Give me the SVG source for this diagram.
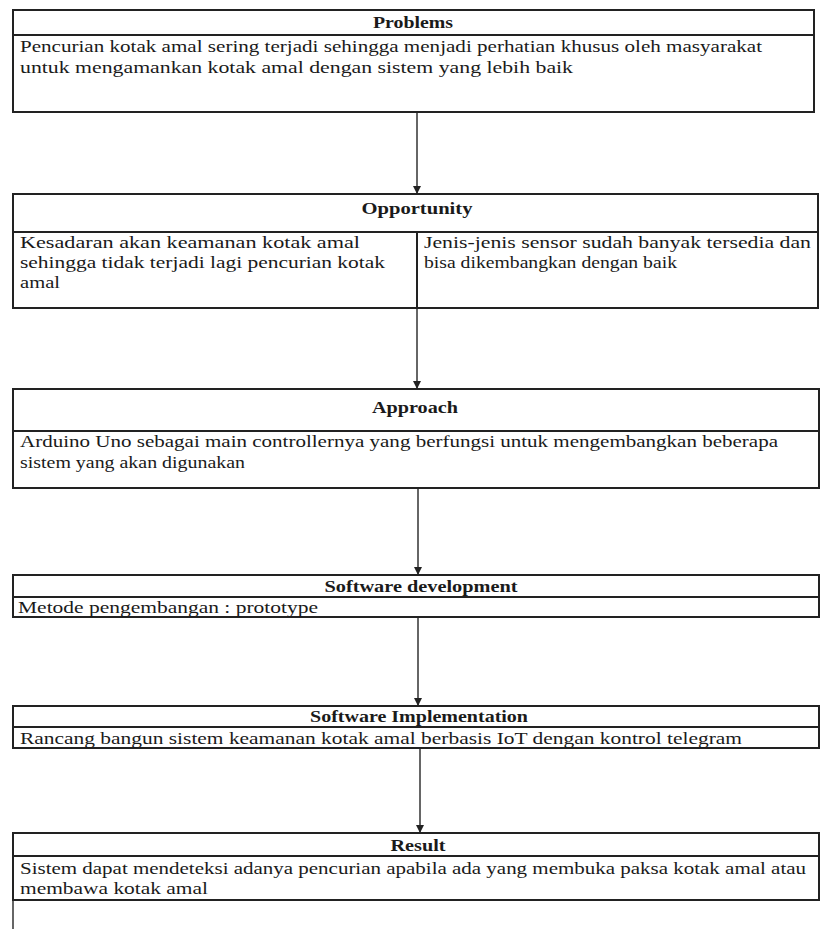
<svg xmlns="http://www.w3.org/2000/svg" width="823" height="929" viewBox="0 0 823 929">
<style>
.box{fill:#fff;stroke:#222;stroke-width:2}
.ln{stroke:#222;stroke-width:2;fill:none}
.t{font-family:"Liberation Serif","Times New Roman",serif;font-size:17px;fill:#1a1a1a}
.h{font-family:"Liberation Serif","Times New Roman",serif;font-size:17px;font-weight:bold;fill:#1a1a1a}
.c{stroke:#333;stroke-width:1.5;fill:none}
</style>
<defs>
<marker id="ah" markerWidth="8" markerHeight="10" refX="7" refY="5" orient="auto" markerUnits="userSpaceOnUse">
<path d="M0,1 L8,5 L0,9 Z" fill="#222"/>
</marker>
</defs>
<rect width="823" height="929" fill="#fff"/>
<g id="connectors">
<line class="c" x1="417" y1="112" x2="417" y2="193" marker-end="url(#ah)"/>
<line class="c" x1="417" y1="308" x2="417" y2="388" marker-end="url(#ah)"/>
<line class="c" x1="418" y1="488" x2="418" y2="574" marker-end="url(#ah)"/>
<line class="c" x1="418" y1="617" x2="418" y2="705" marker-end="url(#ah)"/>
<line class="c" x1="420" y1="748" x2="420" y2="832" marker-end="url(#ah)"/>
<line class="c" x1="13" y1="900" x2="13" y2="929"/>
</g>
<g id="problems">
<rect class="box" x="13" y="10" width="801" height="102"/>
<line class="ln" x1="13" y1="35" x2="814" y2="35"/>
<text class="h" x="413" y="28" text-anchor="middle" textLength="80" lengthAdjust="spacingAndGlyphs">Problems</text>
<text class="t" x="20" y="52" textLength="742" lengthAdjust="spacingAndGlyphs">Pencurian kotak amal sering terjadi sehingga menjadi perhatian khusus oleh masyarakat</text>
<text class="t" x="20" y="73" textLength="553" lengthAdjust="spacingAndGlyphs">untuk mengamankan kotak amal dengan sistem yang lebih baik</text>
</g>
<g id="opportunity">
<rect class="box" x="13" y="194" width="805" height="114"/>
<line class="ln" x1="13" y1="232" x2="818" y2="232"/>
<line class="ln" x1="417" y1="232" x2="417" y2="308"/>
<text class="h" x="417" y="214" text-anchor="middle" textLength="111" lengthAdjust="spacingAndGlyphs">Opportunity</text>
<text class="t" x="20" y="248" textLength="340" lengthAdjust="spacingAndGlyphs">Kesadaran akan keamanan kotak amal</text>
<text class="t" x="20" y="268" textLength="365" lengthAdjust="spacingAndGlyphs">sehingga tidak terjadi lagi pencurian kotak</text>
<text class="t" x="20" y="288" textLength="40" lengthAdjust="spacingAndGlyphs">amal</text>
<text class="t" x="424" y="248" textLength="387" lengthAdjust="spacingAndGlyphs">Jenis-jenis sensor sudah banyak tersedia dan</text>
<text class="t" x="424" y="268" textLength="253" lengthAdjust="spacingAndGlyphs">bisa dikembangkan dengan baik</text>
</g>
<g id="approach">
<rect class="box" x="13" y="389" width="806" height="99"/>
<line class="ln" x1="13" y1="431" x2="819" y2="431"/>
<text class="h" x="415" y="413" text-anchor="middle" textLength="86" lengthAdjust="spacingAndGlyphs">Approach</text>
<text class="t" x="20" y="447" textLength="758" lengthAdjust="spacingAndGlyphs">Arduino Uno sebagai main controllernya yang berfungsi untuk mengembangkan beberapa</text>
<text class="t" x="20" y="468" textLength="225" lengthAdjust="spacingAndGlyphs">sistem yang akan digunakan</text>
</g>
<g id="software-development">
<rect class="box" x="13" y="575" width="806" height="42"/>
<line class="ln" x1="13" y1="597" x2="819" y2="597"/>
<text class="h" x="421" y="592" text-anchor="middle" textLength="193" lengthAdjust="spacingAndGlyphs">Software development</text>
<text class="t" x="18" y="613" textLength="300" lengthAdjust="spacingAndGlyphs">Metode pengembangan : prototype</text>
</g>
<g id="software-implementation">
<rect class="box" x="13" y="706" width="806" height="42"/>
<line class="ln" x1="13" y1="727" x2="819" y2="727"/>
<text class="h" x="419" y="722" text-anchor="middle" textLength="218" lengthAdjust="spacingAndGlyphs">Software Implementation</text>
<text class="t" x="20" y="744" textLength="722" lengthAdjust="spacingAndGlyphs">Rancang bangun sistem keamanan kotak amal berbasis IoT dengan kontrol telegram</text>
</g>
<g id="result">
<rect class="box" x="13" y="833" width="806" height="67"/>
<line class="ln" x1="13" y1="856" x2="819" y2="856"/>
<text class="h" x="418" y="851" text-anchor="middle" textLength="55" lengthAdjust="spacingAndGlyphs">Result</text>
<text class="t" x="20" y="874" textLength="786" lengthAdjust="spacingAndGlyphs">Sistem dapat mendeteksi adanya pencurian apabila ada yang membuka paksa kotak amal atau</text>
<text class="t" x="20" y="894" textLength="188" lengthAdjust="spacingAndGlyphs">membawa kotak amal</text>
</g>
</svg>
